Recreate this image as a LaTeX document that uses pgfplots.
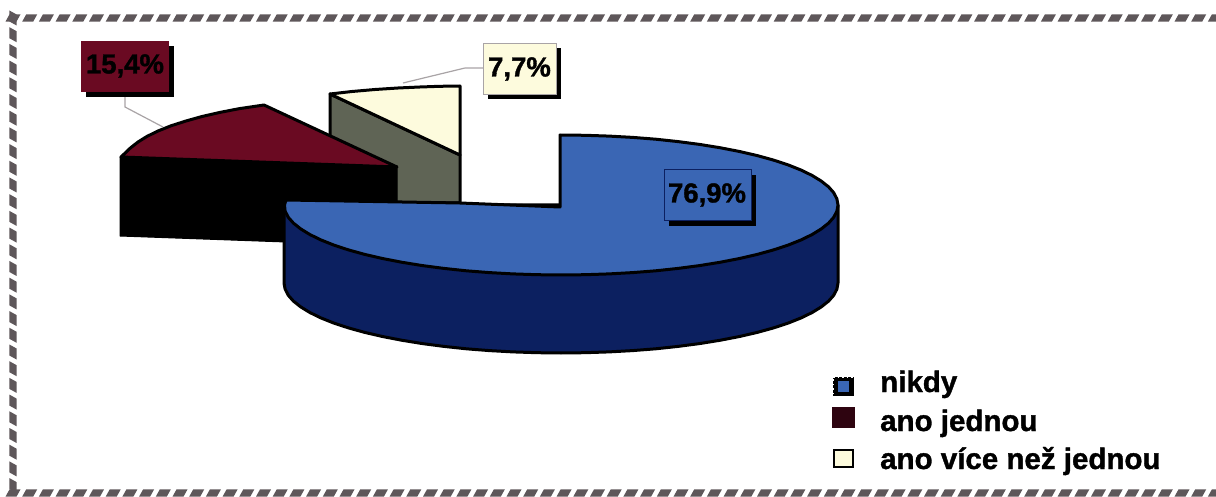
\documentclass[border=0pt]{standalone}
\usepackage{pgfplots}
\pgfplotsset{compat=1.18}
\usepackage{fontspec}
\setmainfont{Liberation Sans}[BoldFeatures={FakeBold=1.2}]
\usetikzlibrary{decorations.markings}

\definecolor{frameGrey}{HTML}{5E575A}
\definecolor{topBlue}{HTML}{3A66B4}
\definecolor{sideBlue}{HTML}{0C2060}
\definecolor{topMaroon}{HTML}{6A0A22}
\definecolor{keyMaroon}{HTML}{2E0410}
\definecolor{topCream}{HTML}{FDFBDD}
\definecolor{sideGrey}{HTML}{5F6455}
\definecolor{leader}{HTML}{A9A4A6}

% Twisted-rope frame: one slanted strand placed repeatedly along the path
\tikzset{
  rope/.style={
    draw=none,
    postaction={decorate,decoration={markings,
      mark=between positions 0 and 1 step 16.7pt with {
        \fill[frameGrey] (-7.5pt,-3.6pt) -- (3.5pt,-3.6pt) -- (7.5pt,3.6pt) -- (-3.5pt,3.6pt) -- cycle;
      }}}
  },
  face/.style={draw=black,line width=3pt,line join=round},
  key/.style={font=\fontsize{29.5}{31}\selectfont\bfseries,anchor=base west,inner sep=0pt},
  val/.style={font=\fontsize{27.5}{30}\selectfont\bfseries,anchor=center,inner sep=0pt}
}

\begin{document}
\begin{tikzpicture}
\begin{axis}[
  scale only axis,
  width=1216pt,height=497pt,
  xmin=0,xmax=1216,ymin=0,ymax=497,
  y dir=reverse,
  hide axis,
  clip=true
]
% page background
\addplot[fill=white,draw=none] coordinates {(0,0) (1216,0) (1216,497) (0,497)} -- cycle;

% frame
\addplot[rope] coordinates {(13,18) (1216,18)};
\addplot[rope] coordinates {(13,18) (13,493)};
\addplot[rope] coordinates {(13,493) (1216,493)};

% slice "ano vice nez jednou": side wall, then top
\addplot[fill=sideGrey,face] coordinates {(330,94) (460,155) (460,203) (330,203)} -- cycle;
\addplot[fill=topCream,face] coordinates {(330,94) (352,91.5) (375,89.5) (398,88) (420,87) (440,86.3) (460,86) (460,155)} -- cycle;

% slice "ano jednou": side wall, then top
\addplot[fill=black,draw=black,line width=1pt] coordinates {(120,157) (397,166) (397,246) (120,236)} -- cycle;
\addplot[fill=topMaroon,face] coordinates {
  (264,105) (239,108.7) (220,112.4) (202,116.5) (186,121) (171,125.8) (158,131)
  (147,136.4) (138,142) (130.5,147.9) (121,157) (397,167)} -- cycle;

% slice "nikdy": side wall, then top
\addplot[fill=sideBlue,face] coordinates {
  (838,205) (838,283) (836.9,289.1) (833.8,295.2) (828.6,301.1) (821.3,306.9) (812,312.6)
  (800.9,318) (787.9,323.2) (773.2,328) (756.9,332.5) (739.1,336.6) (719.9,340.3)
  (699.5,343.6) (678.1,346.4) (655.7,348.8) (632.7,350.6) (609.1,351.9) (585.2,352.7)
  (561,353) (536.8,352.7) (512.9,351.9) (489.3,350.6) (466.3,348.8) (443.9,346.4)
  (422.5,343.6) (402.1,340.3) (382.9,336.6) (365.1,332.5) (348.8,328) (334.1,323.2)
  (321.1,318) (310,312.6) (300.7,306.9) (293.4,301.1) (288.2,295.2) (285.1,289.1)
  (284,283) (284,205)} -- cycle;
\addplot[fill=topBlue,face] coordinates {
  (560,135) (585.2,135.3) (609.1,136.1) (632.7,137.4) (655.7,139.2) (678.1,141.6)
  (699.5,144.4) (719.9,147.7) (739.1,151.4) (756.9,155.5) (773.2,160) (787.9,164.8)
  (800.9,170) (812,175.4) (821.3,181.1) (828.6,186.9) (833.8,192.8) (836.9,198.9)
  (838,205) (836.9,211.1) (833.8,217.2) (828.6,223.1) (821.3,228.9) (812,234.6)
  (800.9,240) (787.9,245.2) (773.2,250) (756.9,254.5) (739.1,258.6) (719.9,262.3)
  (699.5,265.6) (678.1,268.4) (655.7,270.8) (632.7,272.6) (609.1,273.9) (585.2,274.7)
  (561,275) (536.8,274.7) (512.9,273.9) (489.3,272.6) (466.3,270.8) (443.9,268.4)
  (422.5,265.6) (402.1,262.3) (382.9,258.6) (365.1,254.5) (348.8,250) (334.1,245.2)
  (321.1,240) (310,234.6) (300.7,228.9) (293.4,223.1) (288.2,217.2) (285.1,211.1)
  (284.5,205) (286,200) (460,203) (560,207)} -- cycle;

% leader lines
\addplot[leader,line width=1.2pt] coordinates {(125,92) (125,107) (163,127)};
\addplot[leader,line width=1.2pt] coordinates {(483,68) (465,68) (403,83)};

% value boxes with drop shadows
\addplot[fill=black,draw=none] coordinates {(86,46) (174,46) (174,97) (86,97)} -- cycle;
\addplot[fill=topMaroon,draw=none] coordinates {(81,41) (169,41) (169,92) (81,92)} -- cycle;
\addplot[fill=black,draw=none] coordinates {(488,48) (561,48) (561,99) (488,99)} -- cycle;
\addplot[fill=topCream,draw=leader,line width=0.8pt] coordinates {(483,43) (556,43) (556,94) (483,94)} -- cycle;
\addplot[fill=black,draw=none] coordinates {(669,175) (756,175) (756,226) (669,226)} -- cycle;
\addplot[fill=topBlue,draw=sideBlue,line width=1pt] coordinates {(664,170) (751,170) (751,221) (664,221)} -- cycle;

\node[val] at (axis cs:125,66) {15,4\%};
\node[val] at (axis cs:519.5,69) {7,7\%};
\node[val] at (axis cs:707,195) {76,9\%};

% legend keys
\addplot[fill=black,draw=none] coordinates {(833,377) (854,377) (854,396) (833,396)} -- cycle;
\addplot[draw=white,line width=0.9pt,dash pattern=on 1.5pt off 3pt] coordinates {(833,377) (854,377) (854,396) (833,396)} -- cycle;
\addplot[fill=topBlue,draw=none] coordinates {(838,381) (849,381) (849,392) (838,392)} -- cycle;
\addplot[fill=keyMaroon,draw=none] coordinates {(832,407) (855,407) (855,428) (832,428)} -- cycle;
\addplot[fill=topCream,draw=black,line width=2.6pt] coordinates {(834,450) (853,450) (853,467) (834,467)} -- cycle;

\node[key] at (axis cs:880,392) {nikdy};
\node[key] at (axis cs:880,431) {ano jednou};
\node[key] at (axis cs:880,469) {ano více než jednou};
\end{axis}
\end{tikzpicture}
\end{document}
